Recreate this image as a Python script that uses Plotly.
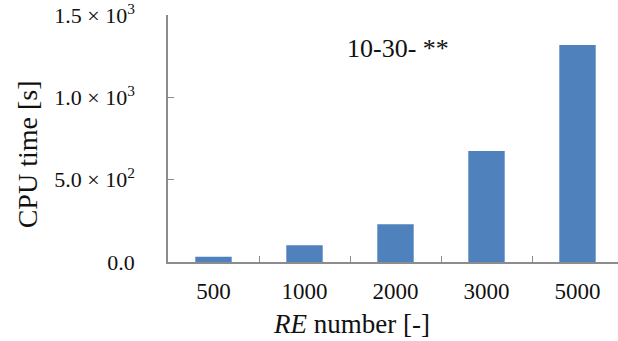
import plotly.graph_objects as go

# CPU time per Reynolds number case
re_numbers = ["500", "1000", "2000", "3000", "5000"]
cpu_time = [32, 102, 229, 675, 1320]

y_tick_vals = [0, 500, 1000, 1500]
y_tick_text = ["0.0", "5.0 × 10<sup>2</sup>", "1.0 × 10<sup>3</sup>", "1.5 × 10<sup>3</sup>"]

font_family = "Liberation Serif, Times New Roman, serif"
text_color = "#111111"
axis_grey = "#8c8c8c"

fig = go.Figure(
    go.Bar(
        x=re_numbers,
        y=cpu_time,
        marker=dict(color="#4F81BD", line=dict(width=0)),
        width=0.4,
    )
)

fig.update_layout(
    width=618,
    height=341,
    margin=dict(l=168, r=0, t=12, b=79),
    plot_bgcolor="white",
    paper_bgcolor="white",
    showlegend=False,
    font=dict(family=font_family, size=23, color=text_color),
    annotations=[
        dict(
            text="10-30- **",
            xref="paper", yref="paper",
            x=(398 - 168) / 450, y=(262 - 46) / 250,
            xanchor="center", yanchor="middle",
            showarrow=False,
            font=dict(family=font_family, size=26, color=text_color),
        ),
        dict(
            text="<i>RE</i> number [-]",
            xref="paper", yref="paper",
            x=(351 - 168) / 450, y=-(325 - 262) / 250,
            xanchor="center", yanchor="middle",
            showarrow=False,
            font=dict(family=font_family, size=27, color=text_color),
        ),
        dict(
            text="CPU time [s]",
            xref="paper", yref="paper",
            x=(27 - 168) / 450, y=(262 - 153) / 250,
            xanchor="center", yanchor="middle",
            textangle=-90,
            showarrow=False,
            font=dict(family=font_family, size=28, color=text_color),
        ),
    ],
)

fig.update_xaxes(
    type="category",
    range=[-0.5, -0.5 + 450 / 91],
    showline=True,
    linecolor=axis_grey,
    linewidth=1.5,
    ticks="inside",
    tickson="boundaries",
    ticklen=6,
    tickcolor=axis_grey,
    showgrid=False,
    tickfont=dict(family=font_family, size=23, color=text_color),
    ticklabelstandoff=8,
)

fig.update_yaxes(
    range=[0, 1502],
    tickvals=y_tick_vals,
    ticktext=y_tick_text,
    showline=True,
    linecolor=axis_grey,
    linewidth=1.5,
    ticks="inside",
    ticklen=6,
    tickcolor=axis_grey,
    showgrid=False,
    zeroline=False,
    tickfont=dict(family=font_family, size=22, color=text_color),
    ticklabelstandoff=27,
    ticklabeloverflow="allow",
)

fig.write_html("out.html")
